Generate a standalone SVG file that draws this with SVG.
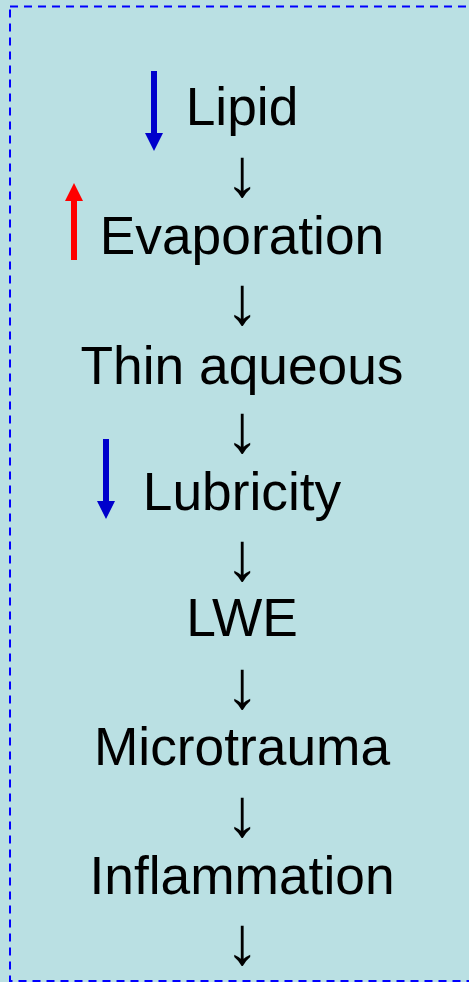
<svg xmlns="http://www.w3.org/2000/svg" width="469" height="982" viewBox="0 0 469 982">
<style>
.t{font-family:"Liberation Sans",Arial,sans-serif;font-size:53.3px;fill:#000;text-anchor:middle}
.a{font-family:"Liberation Sans",Arial,sans-serif;font-size:68px;fill:#000;text-anchor:middle}
.b{fill:#0000CC}
.r{fill:#FF0000}
</style>
<rect x="0" y="0" width="469" height="982" fill="#BAE0E3"/>
<rect x="10" y="6.5" width="480" height="974.5" fill="none" stroke="#0000FF" stroke-width="2" stroke-dasharray="8 6"/>
<g id="n-lipid">
<path class="b" d="M151 71H157V133H163L154 151L145 133H151Z"/>
<text class="t" x="242" y="125">Lipid</text>
</g>
<g id="n-evaporation">
<path class="r" d="M71 260H77V201H83L74 183L65 201H71Z"/>
<text class="t" x="242" y="254">Evaporation</text>
</g>
<g id="n-thin">
<text class="t" x="242" y="384">Thin aqueous</text>
</g>
<g id="n-lubricity">
<path class="b" d="M103 439H109V501H115L106 519L97 501H103Z"/>
<text class="t" x="242" y="510">Lubricity</text>
</g>
<g id="n-lwe">
<text class="t" x="242" y="636">LWE</text>
</g>
<g id="n-microtrauma">
<text class="t" x="242" y="765">Microtrauma</text>
</g>
<g id="n-inflammation">
<text class="t" x="242" y="894">Inflammation</text>
</g>
<g id="connectors">
<text class="a" x="242" y="196">↓</text>
<text class="a" x="242" y="324">↓</text>
<text class="a" x="242" y="452">↓</text>
<text class="a" x="242" y="580">↓</text>
<text class="a" x="242" y="708">↓</text>
<text class="a" x="242" y="836">↓</text>
<text class="a" x="242" y="964">↓</text>
</g>
</svg>
